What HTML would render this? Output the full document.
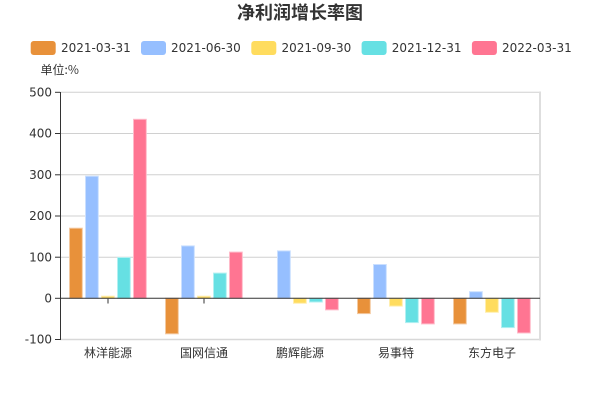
<!DOCTYPE html>
<html><head><meta charset="utf-8">
<style>
html,body{margin:0;padding:0;background:#fff;}
svg{display:block;}
text{font-family:"DejaVu Sans","Liberation Sans","Noto Sans CJK SC",sans-serif;fill:#333;}
.cjk{font-family:"Noto Sans CJK SC","WenQuanYi Zen Hei",sans-serif;}
</style></head>
<body>
<svg width="600" height="400" viewBox="0 0 600 400" xmlns="http://www.w3.org/2000/svg">
<rect width="600" height="400" fill="#fff"/>
<text x="300" y="19" text-anchor="middle" font-size="18" font-weight="bold" class="cjk" fill="#333">净利润增长率图</text>
<!-- legend -->
<g font-size="12">
<rect x="30.7" y="41" width="25" height="14" rx="3" fill="#E8913A"/>
<text x="61" y="52">2021-03-31</text>
<rect x="141" y="41" width="25" height="14" rx="3" fill="#96BFFF"/>
<text x="171" y="52">2021-06-30</text>
<rect x="251.3" y="41" width="25" height="14" rx="3" fill="#FFDC5E"/>
<text x="281.5" y="52">2021-09-30</text>
<rect x="361.6" y="41" width="25" height="14" rx="3" fill="#66E0E3"/>
<text x="391.8" y="52">2021-12-31</text>
<rect x="471.9" y="41" width="25" height="14" rx="3" fill="#FF7592"/>
<text x="502" y="52">2022-03-31</text>
</g>
<text x="40.5" y="74" font-size="12" class="cjk">单位:%</text>
<!-- grid -->
<g stroke="#d0d0d0" stroke-width="1">
<line x1="60" y1="92.3" x2="540" y2="92.3"/>
<line x1="60" y1="133.5" x2="540" y2="133.5"/>
<line x1="60" y1="174.8" x2="540" y2="174.8"/>
<line x1="60" y1="216" x2="540" y2="216"/>
<line x1="60" y1="257.2" x2="540" y2="257.2"/>
<line x1="60" y1="339.5" x2="540" y2="339.5" stroke="#d8d8d8" stroke-width="1.5"/>
</g>
<line x1="540" y1="91.5" x2="540" y2="340.5" stroke="#dedede" stroke-width="2"/>
<!-- y axis -->
<line x1="60.5" y1="92" x2="60.5" y2="340" stroke="#333" stroke-width="1"/>
<g stroke="#333" stroke-width="1">
<line x1="55" y1="92.3" x2="60" y2="92.3"/>
<line x1="55" y1="133.5" x2="60" y2="133.5"/>
<line x1="55" y1="174.8" x2="60" y2="174.8"/>
<line x1="55" y1="216" x2="60" y2="216"/>
<line x1="55" y1="257.2" x2="60" y2="257.2"/>
<line x1="55" y1="298.3" x2="60" y2="298.3"/>
<line x1="55" y1="339.5" x2="60" y2="339.5"/>
</g>
<g font-size="12" text-anchor="end">
<text x="52" y="96.5">500</text>
<text x="52" y="137.7">400</text>
<text x="52" y="179">300</text>
<text x="52" y="220.2">200</text>
<text x="52" y="261.4">100</text>
<text x="52" y="302.5">0</text>
<text x="52" y="343.7">-100</text>
</g>
<!-- x ticks -->
<g stroke="#333" stroke-width="1">
<line x1="108" y1="298.3" x2="108" y2="303.5"/>
<line x1="204" y1="298.3" x2="204" y2="303.5"/>
<line x1="300" y1="298.3" x2="300" y2="303.5"/>
<line x1="396" y1="298.3" x2="396" y2="303.5"/>
<line x1="492" y1="298.3" x2="492" y2="303.5"/>
</g>
<!-- bars -->
<g stroke-width="1">
<g fill="#E8913A" stroke="#f3c9a0">
<rect x="69.5" y="228.2" width="12.8" height="70.1"/>
<rect x="165.5" y="298.3" width="12.8" height="35.5"/>
<rect x="357.5" y="298.3" width="12.8" height="15.3"/>
<rect x="453.5" y="298.3" width="12.8" height="25.6"/>
</g>
<g fill="#96BFFF" stroke="#cadfff">
<rect x="85.5" y="176.2" width="12.8" height="122.1"/>
<rect x="181.5" y="245.9" width="12.8" height="52.4"/>
<rect x="277.5" y="250.9" width="12.8" height="47.4"/>
<rect x="373.5" y="264.5" width="12.8" height="33.8"/>
<rect x="469.5" y="291.7" width="12.8" height="6.6"/>
</g>
<g fill="#FFDC5E" stroke="#ffeeae">
<rect x="101.5" y="296.2" width="12.8" height="2.1"/>
<rect x="197.5" y="296.2" width="12.8" height="2.1"/>
<rect x="293.5" y="298.3" width="12.8" height="4.95"/>
<rect x="389.5" y="298.3" width="12.8" height="7.8"/>
<rect x="485.5" y="298.3" width="12.8" height="14"/>
</g>
<g fill="#66E0E3" stroke="#b2f0f1">
<rect x="117.5" y="257.5" width="12.8" height="40.8"/>
<rect x="213.5" y="273.1" width="12.8" height="25.2"/>
<rect x="309.5" y="298.3" width="12.8" height="3.7"/>
<rect x="405.5" y="298.3" width="12.8" height="24.3"/>
<rect x="501.5" y="298.3" width="12.8" height="29.3"/>
</g>
<g fill="#FF7592" stroke="#ffbac9">
<rect x="133.5" y="119.3" width="12.8" height="179"/>
<rect x="229.5" y="252.1" width="12.8" height="46.2"/>
<rect x="325.5" y="298.3" width="12.8" height="11.55"/>
<rect x="421.5" y="298.3" width="12.8" height="25.6"/>
<rect x="517.5" y="298.3" width="12.8" height="34.65"/>
</g>
</g>
<!-- zero axis -->
<line x1="60" y1="298.3" x2="540" y2="298.3" stroke="#333" stroke-width="1"/>
<!-- category labels -->
<g font-size="12" text-anchor="middle" class="cjk">
<text x="108" y="357" class="cjk">林洋能源</text>
<text x="204" y="357" class="cjk">国网信通</text>
<text x="300" y="357" class="cjk">鹏辉能源</text>
<text x="396" y="357" class="cjk">易事特</text>
<text x="492" y="357" class="cjk">东方电子</text>
</g>
</svg>
</body></html>
